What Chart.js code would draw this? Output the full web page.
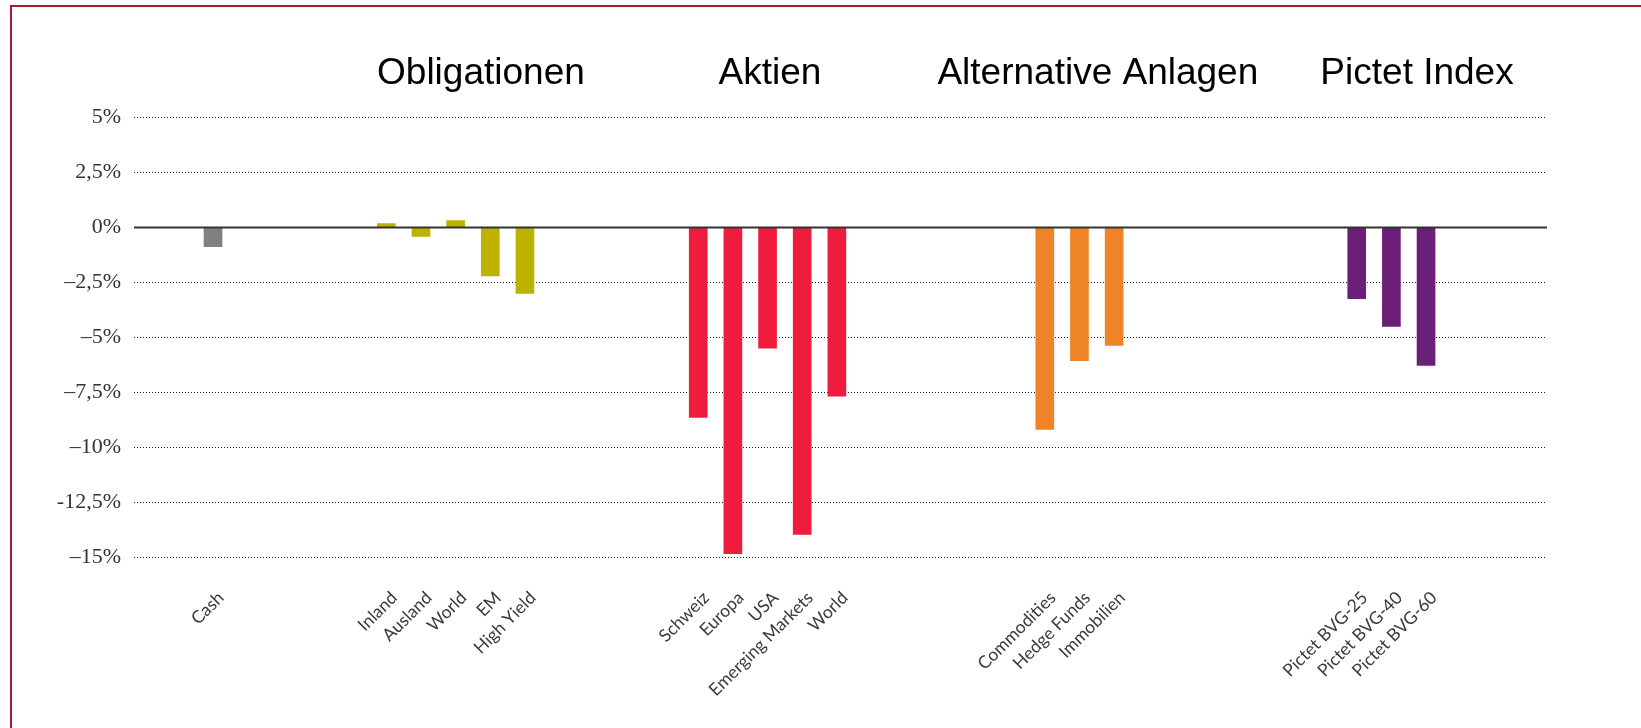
<!DOCTYPE html>
<html><head><meta charset="utf-8">
<script src="https://cdn.jsdelivr.net/npm/chart.js@4.4.1/dist/chart.umd.min.js"></script>
<style>html,body{margin:0;padding:0;background:#fff;overflow:hidden}</style>
</head><body>
<canvas id="c" width="1641" height="728"></canvas>
<script>
// ---- data ----
const categories = ['Cash','','','','','Inland','Ausland','World','EM','High Yield','','','','','Schweiz','Europa','USA','Emerging Markets','World','','','','','','Commodities','Hedge Funds','Immobilien','','','','','','','Pictet BVG-25','Pictet BVG-40','Pictet BVG-60'];
const values = [-0.87,null,null,null,null,0.18,-0.4,0.32,-2.2,-3.0,null,null,null,null,-8.63,-14.83,-5.49,-13.95,-7.67,null,null,null,null,null,-9.18,-6.05,-5.36,null,null,null,null,null,null,-3.23,-4.5,-6.27];
const groupTitles = ['Obligationen','Aktien','Alternative Anlagen','Pictet Index'];
const yTickValues = [5,2.5,0,-2.5,-5,-7.5,-10,-12.5,-15];
const yTickLabels = ['5%','2,5%','0%','–2,5%','–5%','–7,5%','–10%','-12,5%','–15%'];

// ---- styles ----
const groupColors = ['#808080','#BDB200','#EF1C3D','#EE8427','#6B1F78'];
const titleAt = [7.73, 16.07, 25.53, 34.74];

// group index of each category (a new group starts after a run of blanks)
const groupOf = [];
(function(){ let g = 0, blank = false;
  categories.forEach((c,i)=>{ if(c===''){blank=true;groupOf[i]=null;} else { if(blank){g++;} blank=false; groupOf[i]=g; } });
})();

const points = categories.map((c,i)=>({x:i, y:values[i]})).filter(p=>p.y!==null);

const decor = {
  id:'decor',
  afterDatasetsDraw(chart){
    const {ctx, chartArea, scales} = chart;
    const y0 = scales.y.getPixelForValue(0);
    ctx.save();
    ctx.strokeStyle = '#333';
    ctx.lineWidth = 2;
    ctx.beginPath();
    ctx.moveTo(chartArea.left, y0);
    ctx.lineTo(chartArea.right, y0);
    ctx.stroke();
    ctx.restore();
  },
  afterDraw(chart){
    const {ctx, scales} = chart;
    ctx.save();
    ctx.fillStyle = '#000';
    ctx.font = '37px "Liberation Sans", Arial, sans-serif';
    ctx.textAlign = 'center';
    ctx.textBaseline = 'alphabetic';
    groupTitles.forEach((t,i)=>{
      ctx.fillText(t, scales.x.getPixelForValue(titleAt[i]), 84);
    });
    // frame
    ctx.fillStyle = '#A61C35';
    ctx.fillRect(10, 5, chart.width - 10, 2);
    ctx.fillRect(10, 5, 2, chart.height - 5);
    ctx.restore();
  }
};

new Chart(document.getElementById('c'), {
  type: 'bar',
  data: {
    datasets: [{
      data: points,
      backgroundColor: (ctx) => groupColors[groupOf[ctx.raw ? ctx.raw.x : 0]],
      borderWidth: 0,
      barThickness: 18
    }]
  },
  plugins: [decor],
  options: {
    responsive: false,
    animation: false,
    layout: { padding: { top: 117.5, left: 0, right: 94, bottom: 0 } },
    plugins: { legend: { display: false }, tooltip: { enabled: false } },
    scales: {
      x: {
        type: 'linear',
        min: -2.28,
        max: 38.49,
        offset: false,
        grid: { display: false },
        border: { display: false },
        afterBuildTicks: (s) => { s.ticks = categories.map((c,i)=>({value:i})).filter(t=>categories[t.value]!==''); },
        afterFit: (s) => { s.height = 170.5; },
        ticks: {
          autoSkip: false,
          minRotation: 45,
          maxRotation: 45,
          padding: 22,
          labelOffset: 8,
          color: '#3a3a3a',
          font: { family: 'Lato', size: 17.5 },
          callback: (v) => categories[v]
        }
      },
      y: {
        min: -15,
        max: 5,
        afterBuildTicks: (s) => { s.ticks = yTickValues.map(v=>({value:v})); },
        afterFit: (s) => { s.width = 134; },
        grid: {
          drawTicks: false,
          color: (ctx) => (ctx.tick && ctx.tick.value === 0) ? 'rgba(0,0,0,0)' : '#1a1a1a',
          lineWidth: 1
        },
        border: { display: false, dash: [1,2] },
        ticks: {
          padding: 13,
          color: '#333',
          font: { family: 'Liberation Serif', size: 22 },
          callback: (v) => yTickLabels[yTickValues.indexOf(v)]
        }
      }
    }
  }
});
</script>
</body></html>
